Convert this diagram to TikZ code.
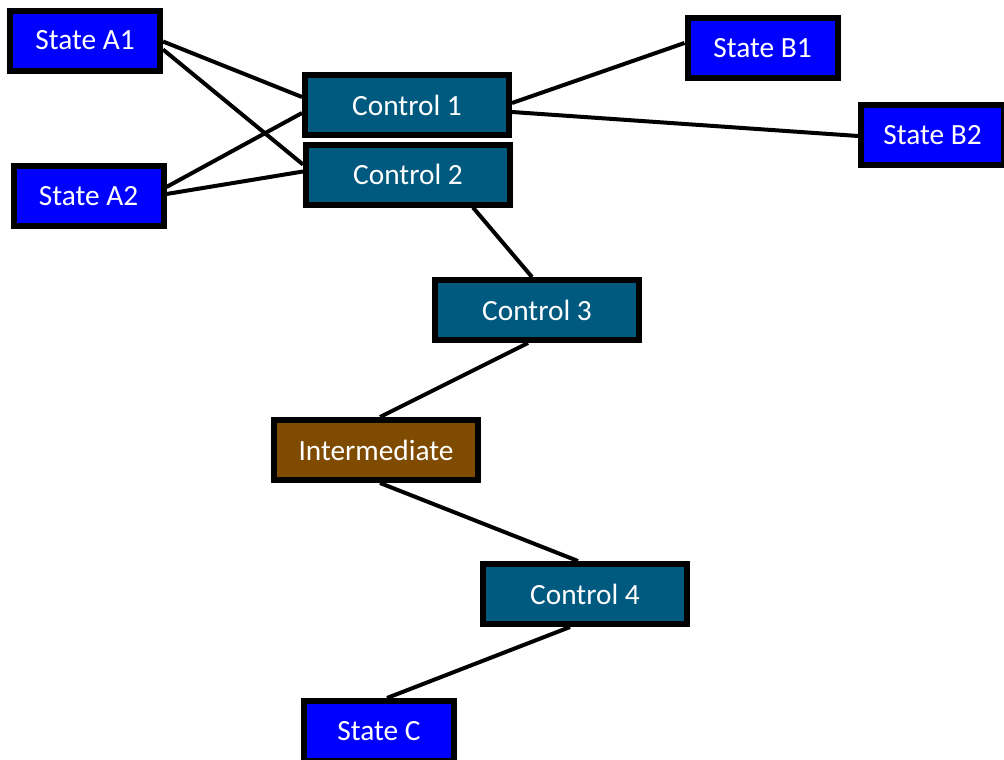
\documentclass[tikz,border=0pt]{standalone}
\usepackage{fontspec}
\setmainfont{Carlito}
\usetikzlibrary{calc}
\definecolor{stateblue}{RGB}{0,0,255}
\definecolor{ctrlblue}{RGB}{0,90,128}
\definecolor{interbrown}{RGB}{127,75,0}
\tikzset{
  box/.style={draw=black, line width=4.5pt, text=white, font=\fontsize{22}{26}\selectfont,
    inner sep=0pt, minimum height=45pt},
  statebox/.style={box, fill=stateblue, minimum width=112.5pt},
  ctrlbox/.style={box, fill=ctrlblue, minimum width=153pt},
  interbox/.style={box, fill=interbrown, minimum width=153pt},
  link/.style={draw=black, line width=3pt}
}
\begin{document}
\begin{tikzpicture}[x=0.75pt, y=-0.75pt]
\useasboundingbox (0,0) rectangle (1004,760);
\clip (0,0) rectangle (1004,760);
\node[statebox] (A1) at (85,40.5) {State A1};
\node[statebox] (A2) at (88.5,196) {State A2};
\node[ctrlbox] (C1) at (407,105) {Control 1};
\node[ctrlbox] (C2) at (408,174.5) {Control 2};
\node[statebox] (B1) at (762.5,48) {State B1};
\node[statebox, minimum width=107pt] (B2) at (932.5,135) {State B2};
\node[ctrlbox] (C3) at (537,310) {Control 3};
\node[interbox] (I) at (376,450) {Intermediate};
\node[ctrlbox] (C4) at (585,594) {Control 4};
\node[statebox] (SC) at (379,731) {State C};
\draw[link] ($(A1.east)+(0,1)$) -- ($(C1.west)+(0,-8)$);
\draw[link] ($(A1.east)+(0,9)$) -- ($(C2.west)+(0,-10)$);
\draw[link] ($(A2.east)+(0,-9)$) -- ($(C1.west)+(0,8)$);
\draw[link] ($(A2.east)+(0,-2)$) -- ($(C2.west)+(0,-3)$);
\draw[link] ($(C1.east)+(0,-2)$) -- ($(B1.west)+(0,-5)$);
\draw[link] ($(C1.east)+(0,7)$) -- ($(B2.west)+(0,1)$);
\draw[link] ($(C2.south)+(65,0)$) -- ($(C3.north)+(-5,0)$);
\draw[link] ($(C3.south)+(-9,0)$) -- ($(I.north)+(4,0)$);
\draw[link] ($(I.south)+(4,0)$) -- ($(C4.north)+(-7,0)$);
\draw[link] ($(C4.south)+(-15,0)$) -- ($(SC.north)+(8,0)$);
\end{tikzpicture}
\end{document}
